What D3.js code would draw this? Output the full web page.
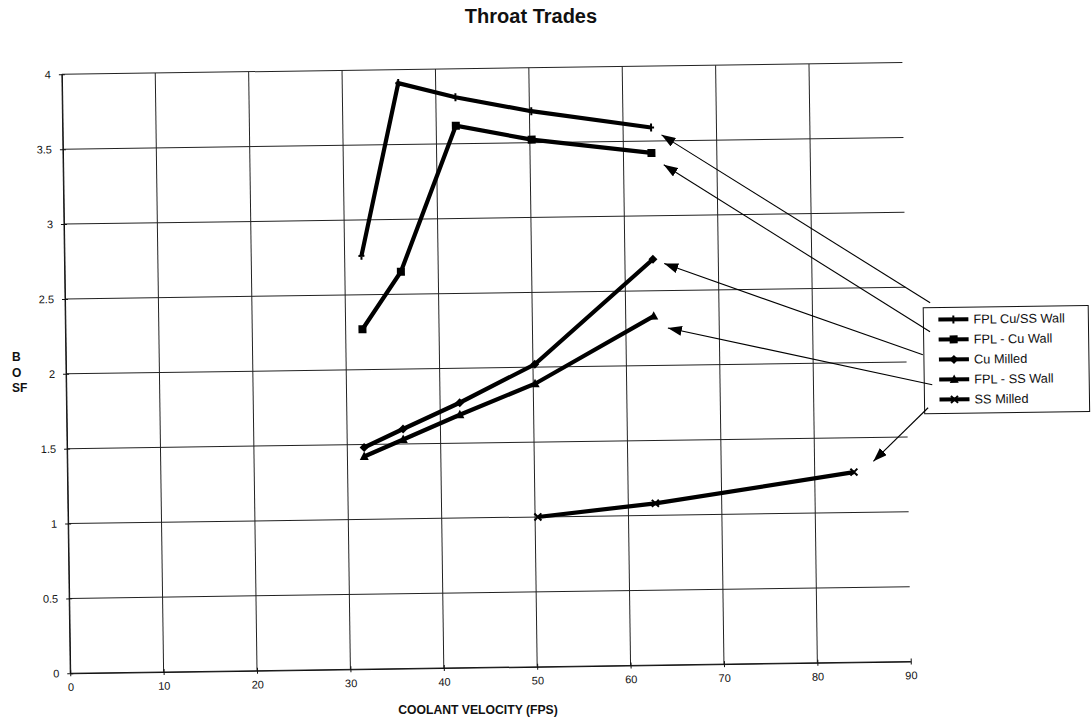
<!DOCTYPE html>
<html><head><meta charset="utf-8">
<script src="https://cdn.jsdelivr.net/npm/d3@7"></script>
<style>body{margin:0;background:#fff} text{font-family:"Liberation Sans",Arial,sans-serif}</style>
</head><body><svg id="chart" width="1091" height="724"></svg>
<script>
// ---- data ----
const velocity = [31.8, 36.0, 42.1, 50.2, 63.0];
const ssMilledVelocity = [50.3, 62.9, 84.2];
const fplCuSsWall = [2.76, 3.91, 3.81, 3.71, 3.59];
const fplCuWall = [2.27, 2.65, 3.62, 3.52, 3.42];
const cuMilled = [1.48, 1.60, 1.77, 2.02, 2.71];
const fplSsWall = [1.42, 1.53, 1.69, 1.89, 2.33];
const ssMilled = [1.00, 1.08, 1.27];
const seriesNames = ["FPL Cu/SS Wall", "FPL - Cu Wall", "Cu Milled", "FPL - SS Wall", "SS Milled"];
const markerTypes = ["plus", "square", "diamond", "triangle", "cross"];
const xTicks = [0, 10, 20, 30, 40, 50, 60, 70, 80, 90];
const yTicks = [0, 0.5, 1, 1.5, 2, 2.5, 3, 3.5, 4];
const yTickLabels = ["0", "0.5", "1", "1.5", "2", "2.5", "3", "3.5", "4"];
const arrowTipX = [64.1, 64.3, 64.2, 64.5, 86.3];
const arrowTipY = [3.54, 3.34, 2.68, 2.25, 1.34];
const titleText = "Throat Trades";
const xTitle = "COOLANT VELOCITY (FPS)";
const yTitleLines = ["B", "O", "SF"];

// ---- layout ----
const svg = d3.select("#chart");
const x = d3.scaleLinear().domain([0, 90]).range([66, 906.6]);
const y = d3.scaleLinear().domain([0, 4]).range([667.5, 68.5]);

const series = [
  {name: seriesNames[0], xs: velocity, ys: fplCuSsWall, m: markerTypes[0]},
  {name: seriesNames[1], xs: velocity, ys: fplCuWall, m: markerTypes[1]},
  {name: seriesNames[2], xs: velocity, ys: cuMilled, m: markerTypes[2]},
  {name: seriesNames[3], xs: velocity, ys: fplSsWall, m: markerTypes[3]},
  {name: seriesNames[4], xs: ssMilledVelocity, ys: ssMilled, m: markerTypes[4]}
].map(s => ({...s, pts: s.xs.map((v, i) => [v, s.ys[i]])}));

svg.append("defs").append("marker")
  .attr("id", "ah").attr("viewBox", "0 0 14 10").attr("refX", 14).attr("refY", 5)
  .attr("markerWidth", 14).attr("markerHeight", 10).attr("markerUnits", "userSpaceOnUse")
  .attr("orient", "auto")
  .append("path").attr("d", "M0,0 L14,5 L0,10 Z").attr("fill", "#000");

const g = svg.append("g").attr("transform", "rotate(-0.8,481,368)");

// grid
g.append("g").selectAll("line").data(yTicks).join("line")
  .attr("x1", x(0)).attr("x2", x(90)).attr("y1", d => y(d)).attr("y2", d => y(d))
  .attr("stroke", "#222").attr("stroke-width", 1);
g.append("g").selectAll("line").data(xTicks.filter(d => d < 90)).join("line")
  .attr("x1", d => x(d)).attr("x2", d => x(d)).attr("y1", y(0)).attr("y2", y(4))
  .attr("stroke", "#222").attr("stroke-width", 1);

// axes
const xAxis = g.append("g").attr("transform", `translate(0,${y(0)})`)
  .call(d3.axisBottom(x).tickValues(xTicks).tickSizeInner(4).tickSizeOuter(0).tickPadding(6));
const yAxis = g.append("g").attr("transform", `translate(${x(0)},0)`)
  .call(d3.axisLeft(y).tickValues(yTicks).tickFormat((d, i) => yTickLabels[i]).tickSizeInner(4).tickSizeOuter(0).tickPadding(7));
[xAxis, yAxis].forEach(a => {
  a.select(".domain").attr("stroke", "#111");
  a.selectAll("line").attr("stroke", "#111");
  a.selectAll("text").attr("font-size", 11).attr("fill", "#111")
    .attr("font-family", "'Liberation Sans',Arial,sans-serif");
});
xAxis.selectAll(".tick line").attr("y1", -3).attr("y2", 3);
yAxis.selectAll(".tick line").attr("x1", -3).attr("x2", 3);

// markers
function drawMarker(sel, type, cx, cy) {
  const k = sel.append("g").attr("transform", `translate(${cx},${cy})`);
  if (type === "plus") {
    k.append("path").attr("d", "M0,-4 L0,4 M-3,0 L3,0").attr("stroke", "#000").attr("stroke-width", 2).attr("fill", "none");
  } else if (type === "square") {
    k.append("rect").attr("x", -4).attr("y", -4).attr("width", 8).attr("height", 8).attr("fill", "#000");
  } else if (type === "diamond") {
    k.append("path").attr("d", "M0,-4.5 L4.5,0 L0,4.5 L-4.5,0 Z").attr("fill", "#000");
  } else if (type === "triangle") {
    k.append("path").attr("d", "M0,-5 L4.5,3.5 L-4.5,3.5 Z").attr("fill", "#000");
  } else {
    k.append("path").attr("d", "M-3.5,-3.5 L3.5,3.5 M3.5,-3.5 L-3.5,3.5").attr("stroke", "#000").attr("stroke-width", 2);
  }
}

const line = d3.line().x(d => x(d[0])).y(d => y(d[1]));
const sg = g.append("g");
series.forEach(s => {
  sg.append("path").datum(s.pts).attr("d", line)
    .attr("fill", "none").attr("stroke", "#000").attr("stroke-width", 4.2)
    .attr("stroke-linejoin", "miter");
  s.pts.forEach(p => drawMarker(sg, s.m, x(p[0]), y(p[1])));
});

// legend
const lgX = 924, lgY = 314, lgW = 165, lgH = 106;
const lg = g.append("g");
lg.append("rect").attr("x", lgX).attr("y", lgY).attr("width", lgW).attr("height", lgH)
  .attr("fill", "#fff").attr("stroke", "#111").attr("stroke-width", 1);
series.forEach((s, i) => {
  const ry = lgY + 12 + i * 20;
  lg.append("line").attr("x1", lgX + 15).attr("x2", lgX + 45).attr("y1", ry).attr("y2", ry)
    .attr("stroke", "#000").attr("stroke-width", 4);
  drawMarker(lg, s.m, lgX + 30, ry);
  lg.append("text").attr("x", lgX + 50).attr("y", ry + 4.5).attr("font-size", 12.8).attr("fill", "#111").text(s.name);
});

// arrows from legend to series ends
const arrowStart = [[7, -5], [6.5, 24], [-1, 47], [8, 77], [3.5, 100]];
arrowTipX.forEach((tx, i) => {
  g.append("line")
    .attr("x1", lgX + arrowStart[i][0]).attr("y1", lgY + arrowStart[i][1])
    .attr("x2", x(tx)).attr("y2", y(arrowTipY[i]))
    .attr("stroke", "#000").attr("stroke-width", 1.1).attr("marker-end", "url(#ah)");
});

// titles
svg.append("text").attr("x", 531).attr("y", 23).attr("text-anchor", "middle")
  .attr("font-size", 20).attr("font-weight", "bold").attr("fill", "#111").text(titleText);
svg.append("text").attr("x", 478).attr("y", 714).attr("text-anchor", "middle")
  .attr("font-size", 12.2).attr("font-weight", "bold").attr("fill", "#111").text(xTitle);
yTitleLines.forEach((t, i) => {
  svg.append("text").attr("x", 12).attr("y", 361 + i * 15.5)
    .attr("font-size", 12).attr("font-weight", "bold").attr("fill", "#111").text(t);
});
</script></body></html>
